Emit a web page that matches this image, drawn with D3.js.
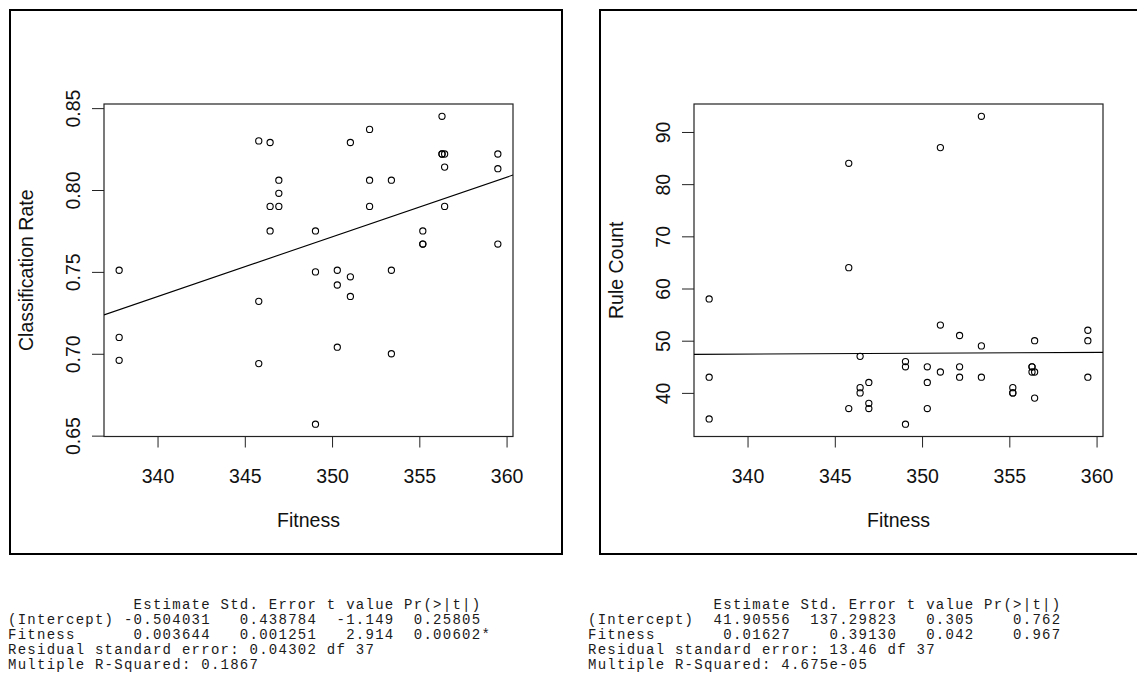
<!DOCTYPE html>
<html>
<head>
<meta charset="utf-8">
<script src="https://cdn.jsdelivr.net/npm/d3@7"></script>
<style>
  html, body { margin: 0; padding: 0; background: #fff; }
  svg { display: block; }
  .tbl { font-family: "Liberation Mono", "Courier New", monospace; font-size: 14px; letter-spacing: 1.26px; white-space: pre; fill: #1a1a1a; }
  .lab { font-family: "Liberation Sans", Arial, sans-serif; font-size: 19.5px; fill: #111; }
</style>
</head>
<body>
<svg id="chart" width="1137" height="684"></svg>
<script>
// ---- Data ----
const fitness = [
  337.8, 337.8, 337.8,
  345.8, 345.8, 345.8,
  346.45, 346.45, 346.45,
  346.95, 346.95, 346.95,
  349.05, 349.05, 349.05,
  350.3, 350.3, 350.3,
  351.05, 351.05, 351.05,
  352.15, 352.15, 352.15,
  353.4, 353.4, 353.4,
  355.2, 355.2, 355.2,
  356.3, 356.3, 356.3,
  356.45, 356.45, 356.45,
  359.5, 359.5, 359.5
];
const classificationRate = [
  0.751, 0.710, 0.696,
  0.830, 0.732, 0.694,
  0.829, 0.790, 0.775,
  0.806, 0.798, 0.790,
  0.775, 0.750, 0.657,
  0.751, 0.742, 0.704,
  0.829, 0.747, 0.735,
  0.837, 0.806, 0.790,
  0.806, 0.751, 0.700,
  0.775, 0.767, 0.767,
  0.845, 0.822, 0.822,
  0.822, 0.814, 0.790,
  0.822, 0.813, 0.767
];
const ruleCount = [
  58, 43, 35,
  84, 64, 37,
  47, 41, 40,
  42, 38, 37,
  46, 45, 34,
  45, 42, 37,
  87, 53, 44,
  51, 45, 43,
  93, 49, 43,
  41, 40, 40,
  45, 44, 45,
  50, 44, 39,
  52, 50, 43
];
// regression coefficients [intercept, slope]
const fitClassRate = [-0.504031, 0.003644];
const fitRuleCount = [41.90556, 0.01627];

const xTicks = [340, 345, 350, 355, 360];
const yTicksClass = [0.65, 0.70, 0.75, 0.80, 0.85];
const yTicksRule = [40, 50, 60, 70, 80, 90];

const xLabel = "Fitness";
const yLabels = ["Classification Rate", "Rule Count"];

const tableClass = [
  "             Estimate Std. Error t value Pr(>|t|)",
  "(Intercept) -0.504031   0.438784  -1.149  0.25805",
  "Fitness      0.003644   0.001251   2.914  0.00602*",
  "Residual standard error: 0.04302 df 37",
  "Multiple R-Squared: 0.1867"
];
const tableRule = [
  "             Estimate Std. Error t value Pr(>|t|)",
  "(Intercept)  41.90556  137.29823   0.305    0.762",
  "Fitness       0.01627    0.39130   0.042    0.967",
  "Residual standard error: 13.46 df 37",
  "Multiple R-Squared: 4.675e-05"
];

// ---- Drawing ----
const svg = d3.select("#chart");

function rExtent(vals) {
  const [a, b] = d3.extent(vals);
  const pad = (b - a) * 0.04;
  return [a - pad, b + pad];
}

const panels = [
  { ox: 10, y: classificationRate, fit: fitClassRate, yTicks: yTicksClass, fmt: d3.format(".2f"), ylab: yLabels[0], table: tableClass, tx: 8 },
  { ox: 600, y: ruleCount, fit: fitRuleCount, yTicks: yTicksRule, fmt: d3.format("d"), ylab: yLabels[1], table: tableRule, tx: 588 }
];

panels.forEach((p, i) => {
  const g = svg.append("g");
  // outer frame
  g.append("rect")
    .attr("x", p.ox).attr("y", 10).attr("width", 552).attr("height", 544)
    .attr("fill", "none").attr("stroke", "#000").attr("stroke-width", 2);

  const L = p.ox + 94, R = p.ox + 503, T = 104, B = 436.5;
  const x = d3.scaleLinear().domain(rExtent(fitness)).range([L, R]);
  const y = d3.scaleLinear().domain(rExtent(p.y)).range([B, T]);

  const clipId = "clip" + i;
  g.append("clipPath").attr("id", clipId).append("rect")
    .attr("x", L).attr("y", T).attr("width", R - L).attr("height", B - T);

  // x axis
  const xAxis = d3.axisBottom(x).tickValues(xTicks).tickSize(11).tickPadding(20).tickFormat(d3.format("d"));
  const gx = g.append("g").attr("transform", `translate(0,${B})`).call(xAxis);
  gx.select(".domain").remove();
  gx.selectAll(".tick line").attr("stroke", "#222");
  gx.selectAll(".tick text").attr("class", "lab").attr("dy", null).attr("y", 46).attr("fill", "#111");

  // y axis
  const yAxis = d3.axisLeft(y).tickValues(p.yTicks).tickSize(12).tickFormat(p.fmt);
  const gy = g.append("g").attr("transform", `translate(${L},0)`).call(yAxis);
  gy.select(".domain").remove();
  gy.selectAll(".tick line").attr("stroke", "#222");
  gy.selectAll(".tick text")
    .attr("class", "lab")
    .attr("x", null).attr("dy", null)
    .attr("text-anchor", "middle")
    .attr("transform", "translate(-24,0) rotate(-90)")
    .attr("y", 0)
    .attr("fill", "#111");

  // plot box
  g.append("rect")
    .attr("x", L).attr("y", T).attr("width", R - L).attr("height", B - T)
    .attr("fill", "none").attr("stroke", "#222").attr("stroke-width", 1.2);

  // regression line
  const [xa, xb] = x.domain();
  g.append("line")
    .attr("clip-path", `url(#${clipId})`)
    .attr("x1", x(xa)).attr("y1", y(p.fit[0] + p.fit[1] * xa))
    .attr("x2", x(xb)).attr("y2", y(p.fit[0] + p.fit[1] * xb))
    .attr("stroke", "#000").attr("stroke-width", 1.1);

  // points
  g.append("g").selectAll("circle")
    .data(fitness.map((f, k) => [f, p.y[k]]))
    .join("circle")
    .attr("cx", d => x(d[0])).attr("cy", d => y(d[1])).attr("r", 3.1)
    .attr("fill", "none").attr("stroke", "#000").attr("stroke-width", 1.1);

  // axis titles
  g.append("text").attr("class", "lab")
    .attr("x", (L + R) / 2).attr("y", 527).attr("text-anchor", "middle")
    .text(xLabel);
  g.append("text").attr("class", "lab")
    .attr("transform", `translate(${p.ox + 23},${(T + B) / 2}) rotate(-90)`)
    .attr("text-anchor", "middle")
    .text(p.ylab);

  // regression table
  const tg = g.append("g");
  p.table.forEach((line, k) => {
    tg.append("text").attr("class", "tbl")
      .attr("x", p.tx).attr("y", 609 + k * 15)
      .text(line);
  });
});
</script>
</body>
</html>
